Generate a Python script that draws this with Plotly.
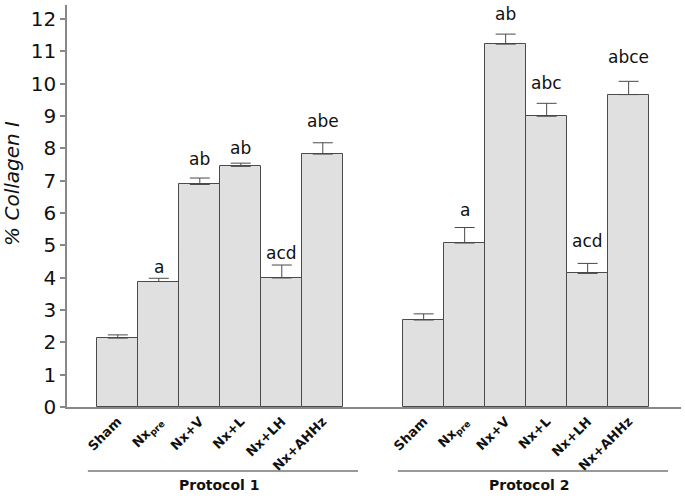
import plotly.graph_objects as go

groups = ["Sham", "Nx<sub>pre</sub>", "Nx+V", "Nx+L", "Nx+LH", "Nx+AHHz"]
protocols = ["Protocol 1", "Protocol 2"]
p1_values = [2.13, 3.88, 6.88, 7.44, 3.99, 7.82]
p1_errors = [0.10, 0.10, 0.20, 0.10, 0.40, 0.35]
p1_letters = ["", "a", "ab", "ab", "acd", "abe"]
p2_values = [2.69, 5.07, 11.22, 8.99, 4.13, 9.66]
p2_errors = [0.19, 0.48, 0.31, 0.40, 0.31, 0.41]
p2_letters = ["", "a", "ab", "abc", "acd", "abce"]

# layout helpers (positions / styles)
P2_OFFSET = 7.46
p1_x = [i for i in range(len(groups))]
p2_x = [i + P2_OFFSET for i in range(len(groups))]
p1_shift = [0, 11, 19, 15, 12, 22]
p2_shift = [0, 18, 20, 20, 22, 24]

FONT = "DejaVu Sans"
BAR_FILL = "#e0e0e0"
EDGE = "#4a4a4a"

fig = go.Figure()
for xs, vals, errs in [(p1_x, p1_values, p1_errors), (p2_x, p2_values, p2_errors)]:
    fig.add_trace(go.Bar(
        x=xs, y=vals, width=1.0,
        marker=dict(color=BAR_FILL, line=dict(color=EDGE, width=1)),
        error_y=dict(type="data", symmetric=False, array=errs,
                     arrayminus=[0] * len(errs), color=EDGE,
                     thickness=1, width=10),
        showlegend=False, hoverinfo="skip",
    ))

annotations = []
for xs, vals, errs, letters, shifts in [
    (p1_x, p1_values, p1_errors, p1_letters, p1_shift),
    (p2_x, p2_values, p2_errors, p2_letters, p2_shift),
]:
    for x, v, e, t, s in zip(xs, vals, errs, letters, shifts):
        if t:
            annotations.append(dict(
                x=x, y=v + e, text=t, showarrow=False, xref="x", yref="y",
                yanchor="middle", yshift=s,
                font=dict(family=FONT, size=17, color="#111"),
            ))

# protocol labels and lines
proto_spans = [(-0.73, 5.86), (6.83, 13.42)]
shapes = []
for (x0, x1), name in zip(proto_spans, protocols):
    shapes.append(dict(type="line", xref="x", yref="paper", x0=x0, x1=x1,
                       y0=-0.159, y1=-0.159, line=dict(color="#777", width=1.5)))
    annotations.append(dict(x=(x0 + x1) / 2 - 0.1, y=-0.195, xref="x", yref="paper",
                            text="<b>" + name + "</b>", showarrow=False,
                            yanchor="middle",
                            font=dict(family=FONT, size=14, color="#111")))

annotations.append(dict(x=0, y=0.555, xref="paper", yref="paper",
                        xanchor="center", yanchor="middle", xshift=-55,
                        text="<i>% Collagen I</i>", textangle=-90, showarrow=False,
                        font=dict(family=FONT, size=20, color="#111")))

fig.update_layout(
    width=685, height=496,
    margin=dict(l=67, r=4, t=5, b=89, autoexpand=False),
    paper_bgcolor="white", plot_bgcolor="white",
    bargap=0,
    shapes=shapes,
    annotations=annotations,
    xaxis=dict(
        range=[-1.239, 13.737],
        tickvals=p1_x + p2_x,
        ticktext=["<b>" + g + "</b>" for g in groups] * 2,
        tickangle=-45,
        tickfont=dict(family=FONT, size=13, color="#111"),
        showline=True, linecolor="#888", linewidth=1.5,
        ticks="", showgrid=False, zeroline=False, fixedrange=True,
        automargin=False,
    ),
    yaxis=dict(
        range=[0, 12.43],
        tickvals=list(range(0, 13)),
        tickfont=dict(family=FONT, size=20, color="#111"),
        ticks="outside", ticklen=5, tickcolor="#888", tickwidth=1.5,
        showline=True, linecolor="#888", linewidth=1.5,
        showgrid=False, zeroline=False, fixedrange=True,
        automargin=False,
    ),
)

fig.write_html("out.html", config={"displayModeBar": False},
               post_script="document.body.style.margin='0';document.body.style.overflow='hidden';")
